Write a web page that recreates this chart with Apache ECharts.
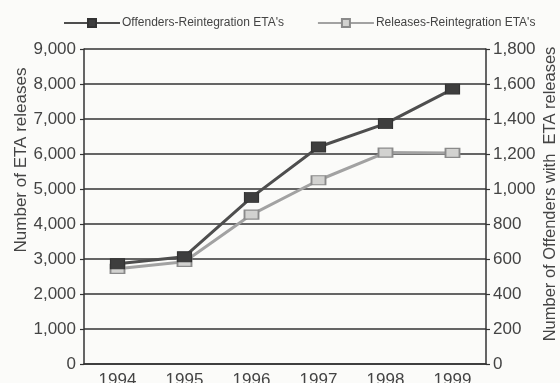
<!DOCTYPE html>
<html>
<head>
<meta charset="utf-8">
<script src="https://cdn.jsdelivr.net/npm/echarts@6/dist/echarts.min.js"></script>
<style>
  html, body { margin: 0; padding: 0; background: #fbfbf9; }
  #chart { width: 560px; height: 383px; }
</style>
</head>
<body>
<div id="chart"></div>
<script>
// Years on the category axis
var years = ['1994', '1995', '1996', '1997', '1998', '1999'];
// Offenders with ETA releases (right axis)
var offenders = [573, 613, 952, 1240, 1374, 1571];
// Number of ETA releases (left axis)
var releases = [2720, 2920, 4270, 5250, 6040, 6030];

var leftTickInterval = 1000;
var leftMax = 9000;
var rightTickInterval = 200;
var rightMax = 1800;

var offendersName = "Offenders-Reintegration ETA's";
var releasesName = "Releases-Reintegration ETA's";
var leftAxisTitle = 'Number of ETA releases';
var rightAxisTitle = 'Number of Offenders with  ETA releases';

var tickFont = 'Liberation Sans, Arial, sans-serif';

function withComma(v) {
  return String(v).replace(/\B(?=(\d{3})+(?!\d))/g, ',');
}

var chart = echarts.init(document.getElementById('chart'), null, { renderer: 'canvas' });

chart.setOption({
  backgroundColor: '#fbfbf9',
  animation: false,
  grid: { left: 84, right: 74, top: 49, bottom: 19, containLabel: false, outerBoundsMode: 'none' },
  legend: {
    top: 12,
    left: 58,
    width: 540,
    itemWidth: 56,
    itemHeight: 10,
    itemGap: 33,
    textStyle: { fontFamily: tickFont, fontSize: 12, color: '#444', padding: [0, 0, 0, -3] },
    data: [offendersName, releasesName]
  },
  xAxis: {
    type: 'category',
    data: years,
    boundaryGap: true,
    axisLine: { lineStyle: { color: '#333', width: 1.5 } },
    axisTick: { inside: true, length: 5, lineStyle: { color: '#333', width: 1.2 } },
    axisLabel: { margin: 8, fontSize: 17, color: '#444', fontFamily: tickFont }
  },
  yAxis: [
    {
      type: 'value',
      min: 0,
      max: leftMax,
      interval: leftTickInterval,
      position: 'left',
      axisLine: { show: true, lineStyle: { color: '#333', width: 1.5 } },
      axisTick: { show: true, length: 4, lineStyle: { color: '#333', width: 1.2 } },
      axisLabel: { margin: 8, fontSize: 17, color: '#444', fontFamily: tickFont, formatter: withComma },
      splitLine: { show: true, lineStyle: { color: '#333', width: 1.6 } }
    },
    {
      type: 'value',
      min: 0,
      max: rightMax,
      interval: rightTickInterval,
      position: 'right',
      axisLine: { show: true, lineStyle: { color: '#333', width: 1.5 } },
      axisTick: { show: true, length: 4, lineStyle: { color: '#333', width: 1.2 } },
      axisLabel: { margin: 7, fontSize: 17, color: '#444', fontFamily: tickFont, formatter: withComma },
      splitLine: { show: false }
    }
  ],
  graphic: [
    {
      type: 'text',
      x: 21, y: 160,
      rotation: Math.PI / 2,
      style: {
        text: leftAxisTitle,
        fontFamily: tickFont, fontSize: 17, fill: '#444',
        align: 'center', verticalAlign: 'middle'
      }
    },
    {
      type: 'text',
      x: 550, y: 194,
      rotation: Math.PI / 2,
      style: {
        text: rightAxisTitle,
        fontFamily: tickFont, fontSize: 16.5, fill: '#444',
        align: 'center', verticalAlign: 'middle'
      }
    }
  ],
  series: [
    {
      name: releasesName,
      type: 'line',
      yAxisIndex: 0,
      data: releases,
      symbol: 'rect',
      symbolSize: [14, 9],
      lineStyle: { color: '#a2a2a2', width: 3 },
      itemStyle: { color: '#d2d2d0', borderColor: '#8a8a8a', borderWidth: 1.5 },
      z: 2
    },
    {
      name: offendersName,
      type: 'line',
      yAxisIndex: 1,
      data: offenders,
      symbol: 'rect',
      symbolSize: [14, 10],
      lineStyle: { color: '#4e4e4e', width: 3 },
      itemStyle: { color: '#3e3e3e', borderColor: '#333', borderWidth: 1 },
      z: 3
    }
  ]
});
</script>
</body>
</html>
